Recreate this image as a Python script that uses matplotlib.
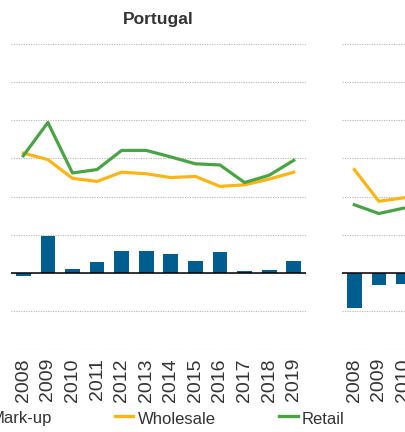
import matplotlib
matplotlib.use("Agg")
import matplotlib.pyplot as plt
from matplotlib import font_manager
from matplotlib.lines import Line2D
from matplotlib.patches import Rectangle

# ---- data ----
years = ["2008", "2009", "2010", "2011", "2012", "2013", "2014", "2015",
         "2016", "2017", "2018", "2019"]
pt_wholesale = [3.14, 2.97, 2.48, 2.40, 2.64, 2.60, 2.50, 2.53, 2.27, 2.31, 2.46, 2.64]
pt_retail = [3.07, 3.94, 2.62, 2.71, 3.21, 3.21, 3.04, 2.86, 2.83, 2.37, 2.56, 2.95]
pt_markup = [-0.08, 0.98, 0.11, 0.29, 0.57, 0.59, 0.51, 0.31, 0.55, 0.05, 0.08, 0.31]
p2_years = ["2008", "2009", "2010"]
p2_wholesale = [2.71, 1.88, 1.97]
p2_retail = [1.79, 1.56, 1.70]
p2_markup = [-0.91, -0.30, -0.28]
legend_labels = ["Mark-up", "Wholesale", "Retail"]
title_pt = "Portugal"

# ---- style ----
names = {f.name for f in font_manager.fontManager.ttflist}
FONT = ["Liberation Sans Narrow", "Liberation Sans", "DejaVu Sans"] if "Liberation Sans Narrow" in names \
    else ["Liberation Sans", "DejaVu Sans"]
plt.rcParams["font.family"] = FONT

C_BAR = "#005D8F"
C_WH = "#FDB515"
C_RT = "#4AA446"
C_TXT = "#333333"

W, H = 405, 432
fig = plt.figure(figsize=(W / 100, H / 100), dpi=100)
fig.patch.set_facecolor("white")


def fx(x):
    return x / W


def fy(y):
    return 1 - y / H


def style_axis(ax, labels):
    ax.set_xlim(-0.5, len(years) - 0.5)
    ax.set_ylim(-2, 6)
    ax.set_yticks(range(-2, 7))
    ax.yaxis.grid(True, color="#b5b5b5", linestyle=(0, (1, 1.2)), linewidth=0.8)
    ax.set_axisbelow(True)
    for s in ax.spines.values():
        s.set_visible(False)
    ax.tick_params(axis="y", length=0, labelleft=False)
    ax.tick_params(axis="x", length=0, pad=6, labelsize=14, labelcolor=C_TXT)
    ax.set_xticks(range(len(labels)))
    ax.set_xticklabels(labels, rotation=90)
    ax.axhline(0, color="black", linewidth=1.1, zorder=3)


ax_w = 295 / W
ax_b = fy(349.7)
ax_h = fy(43.7) - ax_b

ax1 = fig.add_axes([fx(11), ax_b, ax_w, ax_h])
style_axis(ax1, years)
x1 = list(range(len(years)))
ax1.bar(x1, pt_markup, width=0.6, color=C_BAR, zorder=2)
ax1.plot(x1, pt_wholesale, color=C_WH, linewidth=2.3, zorder=4)
ax1.plot(x1, pt_retail, color=C_RT, linewidth=2.3, zorder=4)
ax1.set_title(title_pt, fontsize=12.5, fontweight="bold", color=C_TXT, pad=14)

ax2 = fig.add_axes([fx(342), ax_b, ax_w, ax_h])
style_axis(ax2, p2_years)
x2 = list(range(len(p2_markup)))
ax2.bar(x2, p2_markup, width=0.6, color=C_BAR, zorder=2)
ax2.plot(x2, p2_wholesale, color=C_WH, linewidth=2.3, zorder=4)
ax2.plot(x2, p2_retail, color=C_RT, linewidth=2.3, zorder=4)

# ---- legend (manual, partially cut off at left as in reference) ----
ly = 419
fig.patches.append(Rectangle((fx(-27), fy(ly + 6)), 12 / W, 12 / H,
                             transform=fig.transFigure, color=C_BAR))
fig.text(fx(-9), fy(ly), legend_labels[0], fontsize=12, color=C_TXT, va="center", ha="left")
fig.lines.append(Line2D([fx(115), fx(133)], [fy(ly - 3), fy(ly - 3)],
                        transform=fig.transFigure, color=C_WH, linewidth=2.4))
fig.text(fx(137.5), fy(ly), legend_labels[1], fontsize=12, color=C_TXT, va="center", ha="left")
fig.lines.append(Line2D([fx(279), fx(298)], [fy(ly - 3), fy(ly - 3)],
                        transform=fig.transFigure, color=C_RT, linewidth=2.4))
fig.text(fx(301.5), fy(ly), legend_labels[2], fontsize=12, color=C_TXT, va="center", ha="left")

fig.savefig("out.png", dpi=100)
